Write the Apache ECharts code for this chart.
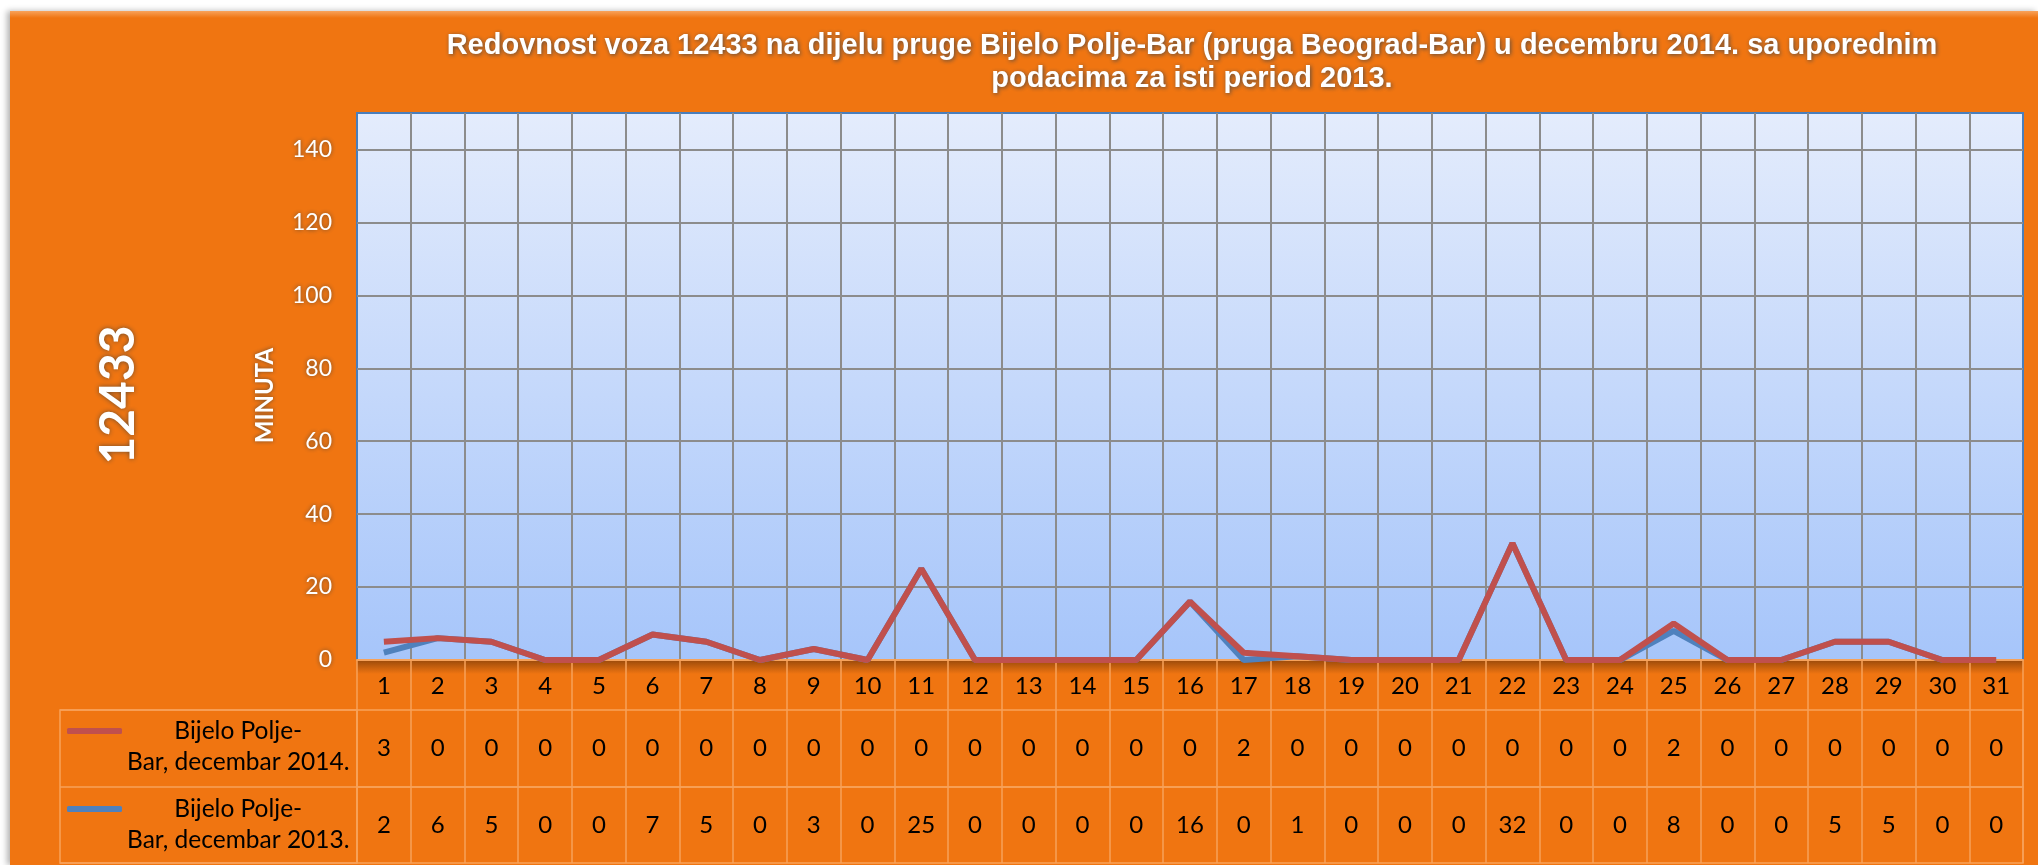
<!DOCTYPE html>
<html>
<head>
<meta charset="utf-8">
<title>Redovnost voza 12433</title>
<script src="https://cdn.jsdelivr.net/npm/echarts@6/dist/echarts.min.js"></script>
<style>
  html, body { margin: 0; padding: 0; background: #ffffff; }
  #panel {
    position: absolute; left: 10px; top: 11px; width: 2028px; height: 854px;
    background: linear-gradient(to bottom, #f8a25a 0px, #f07511 7px, #f07511 100%);
    box-shadow: -3px 0 6px rgba(0, 0, 0, 0.3);
  }
  #main { position: absolute; left: 0; top: 0; width: 2038px; height: 865px; }
</style>
</head>
<body>
<div id="panel"></div>
<div id="main"></div>
<script>
// dani u decembru
var days = ['1', '2', '3', '4', '5', '6', '7', '8', '9', '10', '11', '12', '13', '14', '15', '16',
  '17', '18', '19', '20', '21', '22', '23', '24', '25', '26', '27', '28', '29', '30', '31'];
// kasnjenje u minutama
var delays2014 = [3, 0, 0, 0, 0, 0, 0, 0, 0, 0, 0, 0, 0, 0, 0, 0, 2, 0, 0, 0, 0, 0, 0, 0, 2, 0, 0, 0, 0, 0, 0];
var delays2013 = [2, 6, 5, 0, 0, 7, 5, 0, 3, 0, 25, 0, 0, 0, 0, 16, 0, 1, 0, 0, 0, 32, 0, 0, 8, 0, 0, 5, 5, 0, 0];
var name2014 = 'Bijelo Polje-Bar, decembar 2014.';
var name2013 = 'Bijelo Polje-Bar, decembar 2013.';
var yMin = 0, yMax = 150, yStep = 20;

var bodyFont = 'Lato, "Open Sans", sans-serif';
var titleFont = '"Liberation Sans", Arial, sans-serif';
var tableLine = '#f7a25a';
var red = '#c0504d';
var blue = '#4f81bd';

var chart = echarts.init(document.getElementById('main'));

function legendText(name) {
  var cut = name.indexOf('-') + 1;
  return '{c|' + name.slice(0, cut) + '}\n{c|' + name.slice(cut) + '}';
}

function tableLegend(name, top) {
  return {
    data: [name],
    orient: 'vertical',
    left: 67,
    top: top,
    padding: 0,
    icon: 'roundRect',
    itemWidth: 55,
    itemHeight: 6,
    selectedMode: false,
    formatter: legendText,
    textStyle: {
      padding: [32, 0, 0, 0],
      rich: {
        c: { align: 'center', fontFamily: bodyFont, fontSize: 24.5, lineHeight: 31, color: '#000' }
      }
    }
  };
}

// red tabele ispod grafika
function tableAxis(gridIndex, margin, values) {
  return {
    type: 'category',
    gridIndex: gridIndex,
    data: days,
    boundaryGap: true,
    axisLine: { show: false },
    axisTick: { show: false },
    axisLabel: {
      inside: true,
      margin: margin,
      interval: 0,
      verticalAlign: 'middle',
      fontFamily: bodyFont,
      fontSize: 24,
      color: '#000',
      formatter: function(v, i) {
        return values ? String(values[i]) : v;
      }
    },
    splitLine: { show: true, interval: 0, lineStyle: { color: tableLine, width: 1.5 } }
  };
}

function hiddenValueAxis(gridIndex) {
  return { type: 'value', gridIndex: gridIndex, show: false, splitLine: { show: false } };
}

var labelShadow = { textShadowColor: 'rgba(90,70,50,0.9)', textShadowBlur: 4 };

var option = {
  backgroundColor: 'transparent',
  animation: false,
  title: {
    text: 'Redovnost voza 12433 na dijelu pruge Bijelo Polje-Bar (pruga Beograd-Bar) u decembru 2014. sa uporednim\npodacima za isti period 2013.',
    left: 1192,
    top: 29,
    padding: 0,
    textAlign: 'center',
    textStyle: {
      fontFamily: titleFont,
      fontWeight: 'bold',
      fontSize: 29,
      lineHeight: 33,
      color: '#fff',
      textShadowColor: 'rgba(70,70,70,0.9)',
      textShadowBlur: 4,
      textShadowOffsetX: 1,
      textShadowOffsetY: 1
    }
  },
  legend: [tableLegend(name2014, 719), tableLegend(name2013, 797)],
  graphic: [{
    type: 'text',
    x: 119,
    y: 395,
    rotation: Math.PI / 2,
    style: {
      text: '12433',
      fontFamily: bodyFont,
      fontWeight: 'bold',
      fontSize: 48,
      fill: '#fff',
      align: 'center',
      verticalAlign: 'middle',
      textShadowColor: 'rgba(90,70,50,0.9)',
      textShadowBlur: 5
    }
  }],
  grid: [
    // glavni grafik
    {
      left: 357, top: 113, width: 1666, height: 547,
      show: true,
      borderColor: '#4a7ebb',
      borderWidth: 2,
      backgroundColor: {
        type: 'linear', x: 0, y: 0, x2: 0, y2: 1,
        colorStops: [{ offset: 0, color: '#e4ecfc' }, { offset: 1, color: '#a6c5fa' }]
      }
    },
    // dani
    {
      left: 357, top: 660, width: 1666, height: 50,
      show: true,
      borderWidth: 0,
      backgroundColor: {
        type: 'linear', x: 0, y: 0, x2: 0, y2: 1,
        colorStops: [{ offset: 0, color: '#9a4a0a' }, { offset: 0.28, color: '#f07511' }, { offset: 1, color: '#f07511' }]
      }
    },
    // 2014
    { left: 357, top: 710, width: 1666, height: 77, show: true, borderColor: tableLine, borderWidth: 1.5, backgroundColor: 'transparent' },
    // 2013
    { left: 357, top: 787, width: 1666, height: 76, show: true, borderColor: tableLine, borderWidth: 1.5, backgroundColor: 'transparent' },
    // legenda
    { left: 60, top: 710, width: 297, height: 153, show: true, borderColor: tableLine, borderWidth: 1.5, backgroundColor: 'transparent' }
  ],
  xAxis: [
    {
      type: 'category',
      gridIndex: 0,
      data: days,
      boundaryGap: true,
      axisLine: { show: true, lineStyle: { color: tableLine, width: 2 } },
      axisTick: { show: false },
      axisLabel: { show: false },
      splitLine: {
        show: true, interval: 0, showMinLine: false, showMaxLine: false,
        lineStyle: { color: '#8c8c8c', width: 2 }
      }
    },
    tableAxis(1, 24, null),
    tableAxis(2, 38.5, delays2014),
    tableAxis(3, 38, delays2013),
    { type: 'value', gridIndex: 4, show: false, splitLine: { show: false } }
  ],
  yAxis: [
    {
      type: 'value',
      gridIndex: 0,
      min: yMin,
      max: yMax,
      interval: yStep,
      name: 'MINUTA',
      nameLocation: 'middle',
      nameRotate: 90,
      nameGap: 80,
      nameTextStyle: Object.assign({
        fontFamily: bodyFont, fontWeight: 'bold', fontSize: 24, color: '#fff',
        padding: [0, 18, 0, 0]
      }, labelShadow),
      axisLine: { show: false },
      axisTick: { show: false },
      axisLabel: Object.assign({
        margin: 25, showMaxLabel: false, fontFamily: bodyFont, fontSize: 23, color: '#fff'
      }, labelShadow),
      splitLine: {
        show: true, showMinLine: false, showMaxLine: false,
        lineStyle: { color: '#8c8c8c', width: 2 }
      }
    },
    hiddenValueAxis(1),
    hiddenValueAxis(2),
    hiddenValueAxis(3),
    {
      type: 'category',
      gridIndex: 4,
      data: ['2013', '2014'],
      boundaryGap: true,
      axisLine: { show: false },
      axisTick: { show: false },
      axisLabel: { show: false },
      splitLine: { show: true, interval: 0, lineStyle: { color: tableLine, width: 1.5 } }
    }
  ],
  series: [
    {
      name: name2013,
      type: 'line',
      stack: 'ukupno',
      xAxisIndex: 0,
      yAxisIndex: 0,
      data: delays2013,
      symbol: 'none',
      color: blue,
      lineStyle: { width: 6, color: blue }
    },
    {
      name: name2014,
      type: 'line',
      stack: 'ukupno',
      xAxisIndex: 0,
      yAxisIndex: 0,
      data: delays2014,
      symbol: 'none',
      color: red,
      lineStyle: { width: 6, color: red }
    }
  ]
};

chart.setOption(option);
</script>
</body>
</html>
